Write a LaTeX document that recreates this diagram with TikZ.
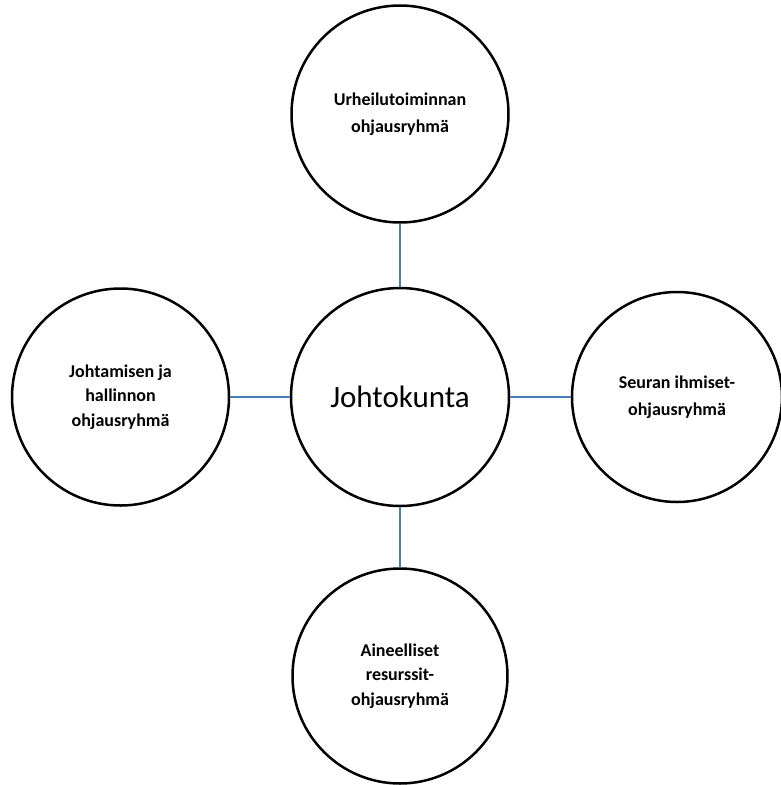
\documentclass[tikz,border=0pt]{standalone}
\usepackage{fontspec}
\setmainfont{Carlito}
\definecolor{linkblue}{HTML}{4A7EBB}
\begin{document}
\begin{tikzpicture}[x=1pt,y=-1pt,
  bubble/.style={circle,draw=black,line width=2.5pt,fill=white,inner sep=0pt,
    align=center,font=\bfseries\fontsize{18}{27}\selectfont},
  tight/.style={font=\bfseries\fontsize{18}{24.5}\selectfont},
  hub/.style={circle,draw=black,line width=2.5pt,fill=white,inner sep=0pt,
    font=\fontsize{31}{36}\selectfont},
  link/.style={draw=linkblue,line width=2.4pt}]
\useasboundingbox (0,0) rectangle (781,785);
% central board and the four steering groups around it
\node[hub, minimum size=218pt] (board) at (400,397) {Johtokunta};
\node[bubble, minimum size=217pt] (sport) at (400,114) {Urheilutoiminnan\\ohjausryhmä};
\node[bubble, tight, minimum size=217pt] (admin) at (120.5,397) {Johtamisen ja\\hallinnon\\ohjausryhmä};
\node[bubble, minimum size=210pt] (people) at (677,397) {Seuran ihmiset-\\ohjausryhmä};
\node[bubble, tight, minimum size=215pt] (assets) at (400,676) {Aineelliset\\resurssit-\\ohjausryhmä};
% connectors from the board to each group
\draw[link] (board) -- (sport);
\draw[link] (board) -- (admin);
\draw[link] (board) -- (people);
\draw[link] (board) -- (assets);
\end{tikzpicture}
\end{document}
